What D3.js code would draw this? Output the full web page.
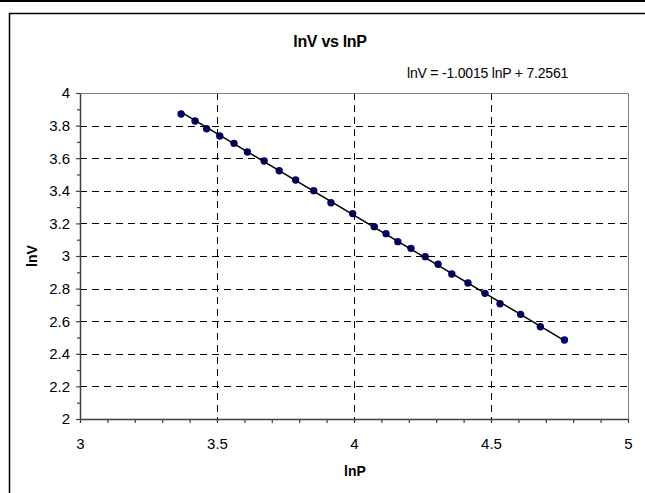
<!DOCTYPE html>
<html>
<head>
<meta charset="utf-8">
<script src="https://cdn.jsdelivr.net/npm/d3@7"></script>
<style>
	body { margin: 0; background: #fff; }
	text { font-family: 'Liberation Sans', Arial, sans-serif; fill: #000; }
</style>
</head>
<body>
<div id="chart"></div>
<script>

// === Data === //

var lnP = [3.369, 3.420, 3.462, 3.510, 3.562, 3.611, 3.672, 3.727, 3.787, 3.853, 3.916, 3.995, 4.074,
	4.117, 4.160, 4.208, 4.260, 4.307, 4.357, 4.416, 4.478, 4.533, 4.608, 4.680, 4.768];
var lnV = [3.871, 3.828, 3.781, 3.736, 3.691, 3.638, 3.583, 3.523, 3.466, 3.401, 3.327, 3.260, 3.180,
	3.137, 3.088, 3.047, 2.996, 2.949, 2.890, 2.834, 2.771, 2.707, 2.642, 2.566, 2.485];

var slope = -1.0015, intercept = 7.2561; // trendline

var xTicks = [3, 3.5, 4, 4.5, 5];
var yTicks = [2, 2.2, 2.4, 2.6, 2.8, 3, 3.2, 3.4, 3.6, 3.8, 4];

var title = 'lnV vs lnP';
var equation = 'lnV = -1.0015 lnP + 7.2561';


// === Globals === //

var width = 645, height = 493;
var plot = { left: 80, right: 628, top: 93, bottom: 419 };
var axisColour = '#404040';

var svg = d3.select('#chart').append('svg')
	.attr('width', width)
	.attr('height', height);

var x = d3.scaleLinear().domain([3, 5]).range([plot.left, plot.right]);
var y = d3.scaleLinear().domain([2, 4]).range([plot.bottom, plot.top]);


// === Frames === //

svg.append('line') // bottom edge of the chart above
	.attr('x1', 0).attr('x2', width)
	.attr('y1', 1).attr('y2', 1)
	.attr('stroke', '#000').attr('stroke-width', 2);

svg.append('rect')
	.attr('x', 9.5).attr('y', 13.5)
	.attr('width', 700).attr('height', 600)
	.attr('fill', '#fff')
	.attr('stroke', '#000').attr('stroke-width', 1.5);


// === Gridlines === //

var grid = svg.append('g').attr('class', 'grid');

grid.selectAll('line.h')
	.data(yTicks.filter(function(d) { return d > 2 && d < 4; }))
	.enter().append('line')
	.attr('class', 'h')
	.attr('x1', plot.left).attr('x2', plot.right)
	.attr('y1', function(d) { return Math.round(y(d)) + 0.5; })
	.attr('y2', function(d) { return Math.round(y(d)) + 0.5; });

grid.selectAll('line.v')
	.data(xTicks.filter(function(d) { return d > 3 && d < 5; }))
	.enter().append('line')
	.attr('class', 'v')
	.attr('y1', plot.top).attr('y2', plot.bottom)
	.attr('x1', function(d) { return Math.round(x(d)) + 0.5; })
	.attr('x2', function(d) { return Math.round(x(d)) + 0.5; });

grid.selectAll('line')
	.attr('stroke', '#000')
	.attr('stroke-width', 1)
	.attr('stroke-dasharray', '7,5');

// plot border (top + right)
svg.append('path')
	.attr('d', 'M' + plot.left + ',' + (plot.top + 0.5) + 'H' + (plot.right + 0.5) + 'V' + plot.bottom)
	.attr('fill', 'none')
	.attr('stroke', '#808080')
	.attr('stroke-width', 1);


// === Axes === //

function styleAxis(g) {
	g.selectAll('path.domain').attr('stroke', axisColour).attr('stroke-width', 1.5);
	g.selectAll('.tick line').attr('stroke', axisColour).attr('stroke-width', 1.2);
	g.selectAll('.tick text').attr('font-size', '15px').attr('fill', '#000')
		.attr('font-family', "'Liberation Sans', Arial, sans-serif");
}

// minor ticks first, then the labelled ones
svg.append('g')
	.attr('transform', 'translate(' + plot.left + ',0)')
	.call(d3.axisLeft(y).tickValues(d3.range(2.1, 4, 0.2)).tickSize(3).tickFormat(''))
	.call(styleAxis)
	.select('path.domain').remove();

svg.append('g')
	.attr('transform', 'translate(0,' + plot.bottom + ')')
	.call(d3.axisBottom(x).tickValues(d3.range(3.1, 5, 0.1)).tickSize(4).tickFormat(''))
	.call(styleAxis)
	.select('path.domain').remove();

svg.append('g')
	.attr('transform', 'translate(' + plot.left + ',0)')
	.call(d3.axisLeft(y).tickValues(yTicks).tickSize(4).tickSizeOuter(0).tickPadding(6).tickFormat(d3.format('')))
	.call(styleAxis);

svg.append('g')
	.attr('transform', 'translate(0,' + plot.bottom + ')')
	.call(d3.axisBottom(x).tickValues(xTicks).tickSize(4).tickSizeOuter(0).tickPadding(15).tickFormat(d3.format('')))
	.call(styleAxis);


// === Series === //

svg.append('g').selectAll('circle')
	.data(lnP)
	.enter().append('circle')
	.attr('cx', function(d) { return x(d); })
	.attr('cy', function(d, i) { return y(lnV[i]); })
	.attr('r', 3.7)
	.attr('fill', '#000080');

var trend = [d3.min(lnP), d3.max(lnP)];

svg.append('path')
	.datum(trend)
	.attr('d', d3.line()
		.x(function(d) { return x(d); })
		.y(function(d) { return y(slope * d + intercept); }))
	.attr('fill', 'none')
	.attr('stroke', '#000')
	.attr('stroke-width', 1.5);


// === Text === //

svg.append('text')
	.attr('x', 330).attr('y', 47)
	.attr('text-anchor', 'middle')
	.attr('font-size', '16px').attr('font-weight', 'bold')
	.attr('letter-spacing', '-0.3px')
	.text(title);

svg.append('text')
	.attr('x', 407).attr('y', 78)
	.attr('font-size', '14px')
	.attr('letter-spacing', '-0.2px')
	.text(equation);

svg.append('text')
	.attr('x', 355).attr('y', 476)
	.attr('text-anchor', 'middle')
	.attr('font-size', '14px').attr('font-weight', 'bold')
	.text('lnP');

svg.append('text')
	.attr('transform', 'translate(37,256) rotate(-90)')
	.attr('text-anchor', 'middle')
	.attr('font-size', '14px').attr('font-weight', 'bold')
	.text('lnV');

</script>
</body>
</html>
